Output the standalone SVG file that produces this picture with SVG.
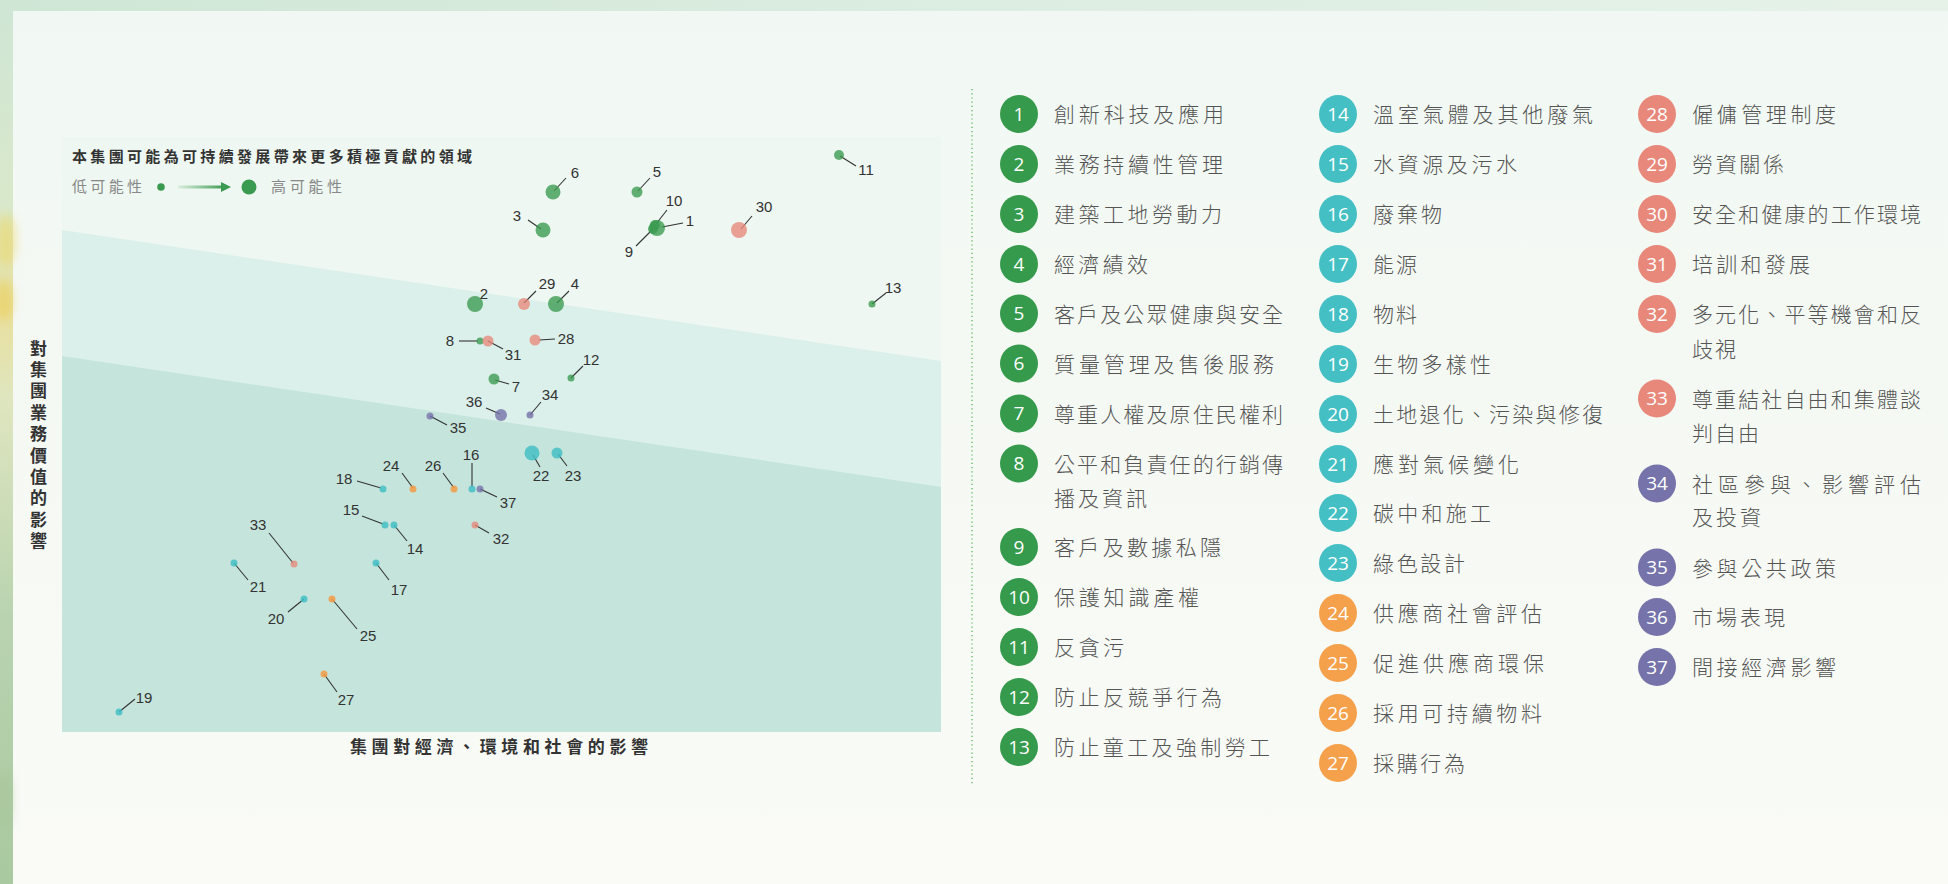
<svg xmlns="http://www.w3.org/2000/svg" width="1948" height="884" viewBox="0 0 1948 884">
<defs>
<linearGradient id="topband" x1="0" y1="0" x2="1" y2="0"><stop offset="0" stop-color="#cfe6d5"/><stop offset="0.5" stop-color="#dcede1"/><stop offset="1" stop-color="#e6f2e8"/></linearGradient>
<linearGradient id="leftband" x1="0" y1="0" x2="0" y2="1"><stop offset="0" stop-color="#cfe6d5"/><stop offset="0.25" stop-color="#d9e8c9"/><stop offset="0.35" stop-color="#e9df9c"/><stop offset="0.45" stop-color="#dfe6bf"/><stop offset="0.7" stop-color="#b9d3b0"/><stop offset="1" stop-color="#a9c9a0"/></linearGradient>
<linearGradient id="panel" x1="0" y1="0" x2="0" y2="1"><stop offset="0" stop-color="#f1f8f3"/><stop offset="0.6" stop-color="#f6f9f4"/><stop offset="1" stop-color="#fafbf6"/></linearGradient>
<linearGradient id="arrowg" gradientUnits="userSpaceOnUse" x1="178" y1="187" x2="226" y2="187"><stop offset="0" stop-color="#3a9a4f" stop-opacity="0.1"/><stop offset="1" stop-color="#3a9a4f"/></linearGradient>
<filter id="soft" x="-1" y="-1" width="3" height="3"><feGaussianBlur stdDeviation="5"/></filter>
<style>
.lbl{font-family:"Liberation Sans",Arial,sans-serif;font-size:15px;fill:#333;text-anchor:middle}
.ldr{stroke:#333;stroke-width:1.1;fill:none}
.g{fill:#3a9a4f;fill-opacity:0.78}
.p{fill:#e8887a;fill-opacity:0.78}
.t{fill:#44bfc4;fill-opacity:0.85}
.o{fill:#f39c46;fill-opacity:0.85}
.u{fill:#7673aa;fill-opacity:0.8}
.cg{fill:#359a4b}.cp{fill:#e8887a}.ct{fill:#44bfc4}.co{fill:#f5a04a}.cu{fill:#7673aa}
.num{font-family:"Open Sans","Noto Sans",sans-serif;font-size:19px;fill:#fff;text-anchor:middle}
.it{font-family:"Noto Sans CJK TC","Noto Sans CJK SC",sans-serif;font-size:21px;font-weight:300;fill:#555;letter-spacing:4px}
.ax{font-family:"Noto Sans CJK TC","Noto Sans CJK SC",sans-serif;font-size:17px;font-weight:bold;fill:#333}
</style>
</defs>
<rect width="1948" height="884" fill="#f7faf5"/>
<rect x="0" y="0" width="1948" height="11" fill="url(#topband)"/>
<rect x="0" y="0" width="13" height="884" fill="url(#leftband)"/>
<rect x="13" y="11" width="1935" height="873" fill="url(#panel)"/>
<g opacity="0.5" filter="url(#soft)">
<ellipse cx="6" cy="240" rx="10" ry="26" fill="#f0d45a"/>
<ellipse cx="4" cy="300" rx="9" ry="20" fill="#eccb4d"/>
<ellipse cx="4" cy="800" rx="8" ry="30" fill="#a7c497"/>
</g>
<g id="plot-bg">
<rect x="62" y="137" width="879" height="595" fill="#eef7f1"/>
<polygon points="62,230 941,361 941,732 62,732" fill="#dbf0ea"/>
<polygon points="62,356 941,487 941,732 62,732" fill="#c5e5dc"/>
</g>
<g id="legend-top">
<text x="72" y="162" font-family="Noto Sans CJK TC, Noto Sans CJK SC, sans-serif" font-size="15" font-weight="bold" fill="#333" textLength="400" lengthAdjust="spacing">本集團可能為可持續發展帶來更多積極貢獻的領域</text>
<text x="72" y="192" font-family="Noto Sans CJK TC, Noto Sans CJK SC, sans-serif" font-size="15" fill="#888" textLength="70" lengthAdjust="spacing">低可能性</text>
<circle cx="161" cy="187" r="3.8" fill="#3a9a4f"/>
<rect x="178" y="185.5" width="46" height="3" fill="url(#arrowg)"/>
<path d="M221,182 L231,187 L221,192 z" fill="#3a9a4f"/>
<circle cx="249" cy="187" r="7.5" fill="#3a9a4f"/>
<text x="271" y="192" font-family="Noto Sans CJK TC, Noto Sans CJK SC, sans-serif" font-size="15" fill="#888" textLength="71" lengthAdjust="spacing">高可能性</text>
</g>
<g id="connectors">
<line class="ldr" x1="662" y1="227" x2="683" y2="223"/>
<line class="ldr" x1="667" y1="210" x2="656" y2="224"/>
<line class="ldr" x1="636" y1="246" x2="653" y2="229"/>
<line class="ldr" x1="528" y1="220" x2="541" y2="229"/>
<line class="ldr" x1="557" y1="303" x2="569" y2="291"/>
<line class="ldr" x1="638" y1="191" x2="650" y2="178"/>
<line class="ldr" x1="554" y1="191" x2="566" y2="178"/>
<line class="ldr" x1="495" y1="380" x2="509" y2="384"/>
<line class="ldr" x1="459" y1="341" x2="478" y2="341"/>
<line class="ldr" x1="840" y1="156" x2="856" y2="166"/>
<line class="ldr" x1="571" y1="378" x2="583" y2="366"/>
<line class="ldr" x1="872" y1="304" x2="886" y2="293"/>
<line class="ldr" x1="394" y1="525" x2="407" y2="541"/>
<line class="ldr" x1="362" y1="516" x2="383" y2="524"/>
<line class="ldr" x1="472" y1="463" x2="472" y2="487"/>
<line class="ldr" x1="376" y1="563" x2="389" y2="580"/>
<line class="ldr" x1="357" y1="481" x2="381" y2="488"/>
<line class="ldr" x1="119" y1="712" x2="135" y2="699"/>
<line class="ldr" x1="304" y1="599" x2="288" y2="612"/>
<line class="ldr" x1="234" y1="563" x2="248" y2="580"/>
<line class="ldr" x1="533" y1="455" x2="540" y2="467"/>
<line class="ldr" x1="558" y1="454" x2="567" y2="466"/>
<line class="ldr" x1="402" y1="473" x2="413" y2="488"/>
<line class="ldr" x1="332" y1="599" x2="357" y2="629"/>
<line class="ldr" x1="443" y1="473" x2="454" y2="488"/>
<line class="ldr" x1="324" y1="674" x2="337" y2="692"/>
<line class="ldr" x1="539" y1="340" x2="555" y2="339"/>
<line class="ldr" x1="524" y1="303" x2="536" y2="291"/>
<line class="ldr" x1="741" y1="229" x2="752" y2="216"/>
<line class="ldr" x1="488" y1="341" x2="503" y2="349"/>
<line class="ldr" x1="475" y1="525" x2="489" y2="533"/>
<line class="ldr" x1="269" y1="533" x2="293" y2="563"/>
<line class="ldr" x1="530" y1="415" x2="541" y2="402"/>
<line class="ldr" x1="430" y1="416" x2="447" y2="425"/>
<line class="ldr" x1="486" y1="408" x2="500" y2="414"/>
<line class="ldr" x1="480" y1="489" x2="497" y2="497"/>
</g>
<g id="dots">
<g id="p1"><circle class="g" cx="657" cy="228" r="8"/><text class="lbl" x="690" y="226">1</text></g>
<g id="p10"><circle class="g" cx="655" cy="225" r="5"/><text class="lbl" x="674" y="206">10</text></g>
<g id="p9"><circle class="g" cx="653" cy="229" r="5"/><text class="lbl" x="629" y="257">9</text></g>
<g id="p2"><circle class="g" cx="475" cy="304" r="8"/><text class="lbl" x="484" y="299">2</text></g>
<g id="p3"><circle class="g" cx="543" cy="230" r="7.5"/><text class="lbl" x="517" y="221">3</text></g>
<g id="p4"><circle class="g" cx="556" cy="304" r="8"/><text class="lbl" x="575" y="289">4</text></g>
<g id="p5"><circle class="g" cx="637" cy="192" r="5.5"/><text class="lbl" x="657" y="177">5</text></g>
<g id="p6"><circle class="g" cx="553" cy="192" r="7.5"/><text class="lbl" x="575" y="178">6</text></g>
<g id="p7"><circle class="g" cx="494" cy="379" r="5.5"/><text class="lbl" x="516" y="392">7</text></g>
<g id="p8"><circle class="g" cx="480" cy="341" r="3.5"/><text class="lbl" x="450" y="346">8</text></g>
<g id="p11"><circle class="g" cx="839" cy="155" r="5"/><text class="lbl" x="866" y="175">11</text></g>
<g id="p12"><circle class="g" cx="571" cy="378" r="3.5"/><text class="lbl" x="591" y="365">12</text></g>
<g id="p13"><circle class="g" cx="872" cy="304" r="3.5"/><text class="lbl" x="893" y="293">13</text></g>
<g id="p14"><circle class="t" cx="394" cy="525" r="3.5"/><text class="lbl" x="415" y="554">14</text></g>
<g id="p15"><circle class="t" cx="385" cy="525" r="3.5"/><text class="lbl" x="351" y="515">15</text></g>
<g id="p16"><circle class="t" cx="472" cy="489" r="3.5"/><text class="lbl" x="471" y="460">16</text></g>
<g id="p17"><circle class="t" cx="376" cy="563" r="3.5"/><text class="lbl" x="399" y="595">17</text></g>
<g id="p18"><circle class="t" cx="383" cy="489" r="3.5"/><text class="lbl" x="344" y="484">18</text></g>
<g id="p19"><circle class="t" cx="119" cy="712" r="3.5"/><text class="lbl" x="144" y="703">19</text></g>
<g id="p20"><circle class="t" cx="304" cy="599" r="3.5"/><text class="lbl" x="276" y="624">20</text></g>
<g id="p21"><circle class="t" cx="234" cy="563" r="3.5"/><text class="lbl" x="258" y="592">21</text></g>
<g id="p22"><circle class="t" cx="532" cy="453" r="7.5"/><text class="lbl" x="541" y="481">22</text></g>
<g id="p23"><circle class="t" cx="557" cy="453" r="5.5"/><text class="lbl" x="573" y="481">23</text></g>
<g id="p24"><circle class="o" cx="413" cy="489" r="3.5"/><text class="lbl" x="391" y="471">24</text></g>
<g id="p25"><circle class="o" cx="332" cy="599" r="3.5"/><text class="lbl" x="368" y="641">25</text></g>
<g id="p26"><circle class="o" cx="454" cy="489" r="3.5"/><text class="lbl" x="433" y="471">26</text></g>
<g id="p27"><circle class="o" cx="324" cy="674" r="3.5"/><text class="lbl" x="346" y="705">27</text></g>
<g id="p28"><circle class="p" cx="535" cy="340" r="5.5"/><text class="lbl" x="566" y="344">28</text></g>
<g id="p29"><circle class="p" cx="524" cy="304" r="6"/><text class="lbl" x="547" y="289">29</text></g>
<g id="p30"><circle class="p" cx="739" cy="230" r="8"/><text class="lbl" x="764" y="212">30</text></g>
<g id="p31"><circle class="p" cx="488" cy="341" r="5.5"/><text class="lbl" x="513" y="360">31</text></g>
<g id="p32"><circle class="p" cx="475" cy="525" r="3.5"/><text class="lbl" x="501" y="544">32</text></g>
<g id="p33"><circle class="p" cx="294" cy="564" r="3.5"/><text class="lbl" x="258" y="530">33</text></g>
<g id="p34"><circle class="u" cx="530" cy="415" r="3.5"/><text class="lbl" x="550" y="400">34</text></g>
<g id="p35"><circle class="u" cx="430" cy="416" r="3.5"/><text class="lbl" x="458" y="433">35</text></g>
<g id="p36"><circle class="u" cx="501" cy="415" r="6"/><text class="lbl" x="474" y="407">36</text></g>
<g id="p37"><circle class="u" cx="480" cy="489" r="3.5"/><text class="lbl" x="508" y="508">37</text></g>
</g>
<g id="axis-labels">
<text class="ax" x="350" y="753" textLength="298" lengthAdjust="spacing">集團對經濟、環境和社會的影響</text>
<text class="ax" text-anchor="middle"><tspan x="38.5" y="354.5">對</tspan><tspan x="38.5" y="375.9">集</tspan><tspan x="38.5" y="397.3">團</tspan><tspan x="38.5" y="418.7">業</tspan><tspan x="38.5" y="440.1">務</tspan><tspan x="38.5" y="461.5">價</tspan><tspan x="38.5" y="482.9">值</tspan><tspan x="38.5" y="504.3">的</tspan><tspan x="38.5" y="525.7">影</tspan><tspan x="38.5" y="547.1">響</tspan></text>
</g>
<line id="separator" x1="972" y1="89" x2="972" y2="785" stroke="#4caf50" stroke-width="1.2" stroke-dasharray="1.2 3"/>
<g id="legend-list">
<g id="i1"><circle class="cg" cx="1019" cy="114" r="19"/><text class="num" x="1019" y="120.5">1</text><text class="it" x="1054" y="122" textLength="174" lengthAdjust="spacing">創新科技及應用</text></g>
<g id="i2"><circle class="cg" cx="1019" cy="164" r="19"/><text class="num" x="1019" y="170.5">2</text><text class="it" x="1054" y="172" textLength="173" lengthAdjust="spacing">業務持續性管理</text></g>
<g id="i3"><circle class="cg" cx="1019" cy="214" r="19"/><text class="num" x="1019" y="220.5">3</text><text class="it" x="1054" y="222" textLength="172" lengthAdjust="spacing">建築工地勞動力</text></g>
<g id="i4"><circle class="cg" cx="1019" cy="264" r="19"/><text class="num" x="1019" y="270.5">4</text><text class="it" x="1054" y="272" textLength="98" lengthAdjust="spacing">經濟績效</text></g>
<g id="i5"><circle class="cg" cx="1019" cy="313.5" r="19"/><text class="num" x="1019" y="320">5</text><text class="it" x="1054" y="321.5" textLength="233" lengthAdjust="spacing">客戶及公眾健康與安全</text></g>
<g id="i6"><circle class="cg" cx="1019" cy="363.5" r="19"/><text class="num" x="1019" y="370">6</text><text class="it" x="1054" y="371.5" textLength="224" lengthAdjust="spacing">質量管理及售後服務</text></g>
<g id="i7"><circle class="cg" cx="1019" cy="413.5" r="19"/><text class="num" x="1019" y="420">7</text><text class="it" x="1054" y="421.5" textLength="233" lengthAdjust="spacing">尊重人權及原住民權利</text></g>
<g id="i8"><circle class="cg" cx="1019" cy="463.5" r="19"/><text class="num" x="1019" y="470">8</text><text class="it" x="1054" y="471.5" textLength="233" lengthAdjust="spacing">公平和負責任的行銷傳</text><text class="it" x="1054" y="505.5" textLength="97" lengthAdjust="spacing">播及資訊</text></g>
<g id="i9"><circle class="cg" cx="1019" cy="547" r="19"/><text class="num" x="1019" y="553.5">9</text><text class="it" x="1054" y="555" textLength="171" lengthAdjust="spacing">客戶及數據私隱</text></g>
<g id="i10"><circle class="cg" cx="1019" cy="597" r="19"/><text class="num" x="1019" y="603.5">10</text><text class="it" x="1054" y="605" textLength="149" lengthAdjust="spacing">保護知識產權</text></g>
<g id="i11"><circle class="cg" cx="1019" cy="647" r="19"/><text class="num" x="1019" y="653.5">11</text><text class="it" x="1054" y="655" textLength="74" lengthAdjust="spacing">反貪污</text></g>
<g id="i12"><circle class="cg" cx="1019" cy="697" r="19"/><text class="num" x="1019" y="703.5">12</text><text class="it" x="1054" y="705" textLength="172" lengthAdjust="spacing">防止反競爭行為</text></g>
<g id="i13"><circle class="cg" cx="1019" cy="747" r="19"/><text class="num" x="1019" y="753.5">13</text><text class="it" x="1054" y="755" textLength="220" lengthAdjust="spacing">防止童工及強制勞工</text></g>
<g id="i14"><circle class="ct" cx="1338" cy="114" r="19"/><text class="num" x="1338" y="120.5">14</text><text class="it" x="1373" y="122" textLength="224" lengthAdjust="spacing">溫室氣體及其他廢氣</text></g>
<g id="i15"><circle class="ct" cx="1338" cy="164" r="19"/><text class="num" x="1338" y="170.5">15</text><text class="it" x="1373" y="172" textLength="148" lengthAdjust="spacing">水資源及污水</text></g>
<g id="i16"><circle class="ct" cx="1338" cy="214" r="19"/><text class="num" x="1338" y="220.5">16</text><text class="it" x="1373" y="222" textLength="73" lengthAdjust="spacing">廢棄物</text></g>
<g id="i17"><circle class="ct" cx="1338" cy="264" r="19"/><text class="num" x="1338" y="270.5">17</text><text class="it" x="1373" y="272" textLength="48" lengthAdjust="spacing">能源</text></g>
<g id="i18"><circle class="ct" cx="1338" cy="314" r="19"/><text class="num" x="1338" y="320.5">18</text><text class="it" x="1373" y="322" textLength="48" lengthAdjust="spacing">物料</text></g>
<g id="i19"><circle class="ct" cx="1338" cy="364" r="19"/><text class="num" x="1338" y="370.5">19</text><text class="it" x="1373" y="372" textLength="122" lengthAdjust="spacing">生物多樣性</text></g>
<g id="i20"><circle class="ct" cx="1338" cy="414" r="19"/><text class="num" x="1338" y="420.5">20</text><text class="it" x="1373" y="422" textLength="234" lengthAdjust="spacing">土地退化、污染與修復</text></g>
<g id="i21"><circle class="ct" cx="1338" cy="464" r="19"/><text class="num" x="1338" y="470.5">21</text><text class="it" x="1373" y="472" textLength="150" lengthAdjust="spacing">應對氣候變化</text></g>
<g id="i22"><circle class="ct" cx="1338" cy="513" r="19"/><text class="num" x="1338" y="519.5">22</text><text class="it" x="1373" y="521" textLength="122" lengthAdjust="spacing">碳中和施工</text></g>
<g id="i23"><circle class="ct" cx="1338" cy="563" r="19"/><text class="num" x="1338" y="569.5">23</text><text class="it" x="1373" y="571" textLength="96" lengthAdjust="spacing">綠色設計</text></g>
<g id="i24"><circle class="co" cx="1338" cy="613" r="19"/><text class="num" x="1338" y="619.5">24</text><text class="it" x="1373" y="621" textLength="173" lengthAdjust="spacing">供應商社會評估</text></g>
<g id="i25"><circle class="co" cx="1338" cy="663" r="19"/><text class="num" x="1338" y="669.5">25</text><text class="it" x="1373" y="671" textLength="175" lengthAdjust="spacing">促進供應商環保</text></g>
<g id="i26"><circle class="co" cx="1338" cy="713" r="19"/><text class="num" x="1338" y="719.5">26</text><text class="it" x="1373" y="721" textLength="173" lengthAdjust="spacing">採用可持續物料</text></g>
<g id="i27"><circle class="co" cx="1338" cy="763" r="19"/><text class="num" x="1338" y="769.5">27</text><text class="it" x="1373" y="771" textLength="96" lengthAdjust="spacing">採購行為</text></g>
<g id="i28"><circle class="cp" cx="1657" cy="114" r="19"/><text class="num" x="1657" y="120.5">28</text><text class="it" x="1692" y="122" textLength="148" lengthAdjust="spacing">僱傭管理制度</text></g>
<g id="i29"><circle class="cp" cx="1657" cy="164" r="19"/><text class="num" x="1657" y="170.5">29</text><text class="it" x="1692" y="172" textLength="96" lengthAdjust="spacing">勞資關係</text></g>
<g id="i30"><circle class="cp" cx="1657" cy="214" r="19"/><text class="num" x="1657" y="220.5">30</text><text class="it" x="1692" y="222" textLength="233" lengthAdjust="spacing">安全和健康的工作環境</text></g>
<g id="i31"><circle class="cp" cx="1657" cy="264" r="19"/><text class="num" x="1657" y="270.5">31</text><text class="it" x="1692" y="272" textLength="122" lengthAdjust="spacing">培訓和發展</text></g>
<g id="i32"><circle class="cp" cx="1657" cy="314" r="19"/><text class="num" x="1657" y="320.5">32</text><text class="it" x="1692" y="322" textLength="233" lengthAdjust="spacing">多元化、平等機會和反</text><text class="it" x="1692" y="356.5" textLength="48" lengthAdjust="spacing">歧視</text></g>
<g id="i33"><circle class="cp" cx="1657" cy="398.5" r="19"/><text class="num" x="1657" y="405">33</text><text class="it" x="1692" y="406.5" textLength="233" lengthAdjust="spacing">尊重結社自由和集體談</text><text class="it" x="1692" y="441" textLength="71" lengthAdjust="spacing">判自由</text></g>
<g id="i34"><circle class="cu" cx="1657" cy="483.5" r="19"/><text class="num" x="1657" y="490">34</text><text class="it" x="1692" y="491.5" textLength="233" lengthAdjust="spacing">社區參與、影響評估</text><text class="it" x="1692" y="525" textLength="73" lengthAdjust="spacing">及投資</text></g>
<g id="i35"><circle class="cu" cx="1657" cy="567.5" r="19"/><text class="num" x="1657" y="574">35</text><text class="it" x="1692" y="575.5" textLength="148" lengthAdjust="spacing">參與公共政策</text></g>
<g id="i36"><circle class="cu" cx="1657" cy="617" r="19"/><text class="num" x="1657" y="623.5">36</text><text class="it" x="1692" y="625" textLength="97" lengthAdjust="spacing">市場表現</text></g>
<g id="i37"><circle class="cu" cx="1657" cy="667" r="19"/><text class="num" x="1657" y="673.5">37</text><text class="it" x="1692" y="675" textLength="148" lengthAdjust="spacing">間接經濟影響</text></g>
</g>
</svg>
